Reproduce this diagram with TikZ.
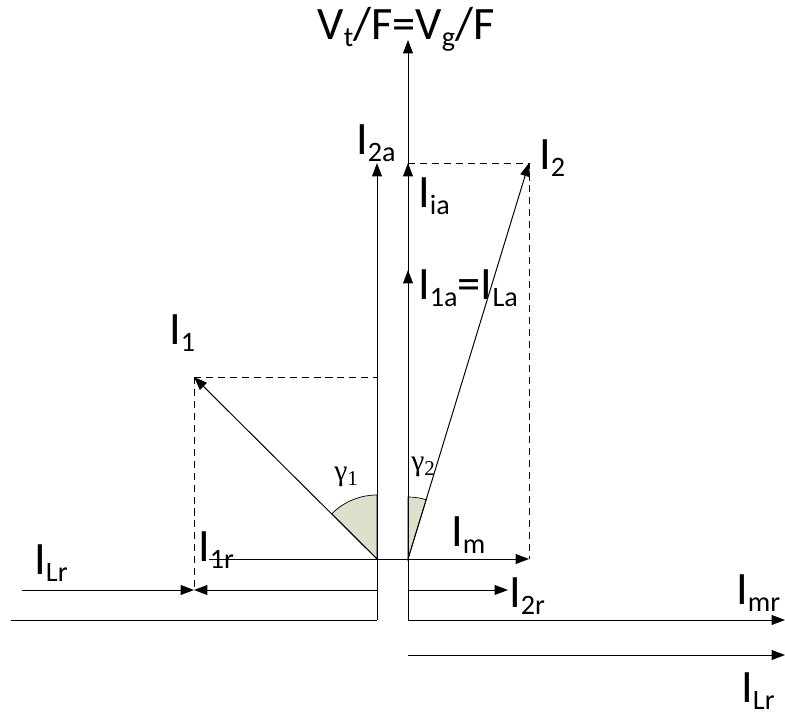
\documentclass[tikz,border=0pt]{standalone}
\usepackage{fontspec}
\setmainfont{Carlito}
\newfontfamily\serifgreek{Liberation Serif}
\usepackage{xcolor}
\usepackage{tikz}
\usetikzlibrary{arrows.meta,calc}
\definecolor{anglefill}{RGB}{221,225,204}
\newcommand{\lowsub}[1]{\raisebox{-4.6pt}{\fontsize{20}{20}\selectfont #1}}
\newcommand{\angsub}[1]{\raisebox{-3pt}{\fontsize{15}{15}\selectfont #1}}

\begin{document}
\begin{tikzpicture}[
    x=0.025cm, y=-0.025cm,
    vec/.style={-{Triangle[length=9.5pt,width=7pt]}, line width=0.7pt},
    axis/.style={line width=0.7pt},
    proj/.style={dash pattern=on 5pt off 3.5pt, line width=0.6pt},
    lbl/.style={anchor=base west, inner sep=0pt, font=\fontsize{33}{36}\selectfont},
    anglbl/.style={anchor=base west, inner sep=0pt, font=\serifgreek\fontsize{21}{24}\selectfont},
    wedge/.style={fill=anglefill, draw=black, line width=0.5pt}
]
\useasboundingbox (0,0) rectangle (785,720);

% points of the diagram
\coordinate (o1) at (377,559);
\coordinate (o2) at (408,559);
\coordinate (top1) at (377,163);
\coordinate (top2) at (408,163);
\coordinate (i1a) at (408,270);
\coordinate (vaxis) at (408,40);
\coordinate (p2) at (529,163);
\coordinate (pm) at (529,559);
\coordinate (p1) at (194,377);
\coordinate (p1a) at (377,377);
\coordinate (base) at (209,559);
\coordinate (r1) at (194,590);
\coordinate (lrstart) at (22,590);
\coordinate (o1r) at (377,590);
\coordinate (o2r) at (408,590);
\coordinate (r2) at (508,590);
\coordinate (leftend) at (11,620);
\coordinate (o1b) at (377,620);
\coordinate (o2b) at (408,620);
\coordinate (mr) at (785,620);
\coordinate (o2c) at (408,655);
\coordinate (lr) at (785,655);

% angles
\filldraw[wedge] (o1) -- ++(-90:64) arc (-90:-135:64) -- cycle;
\filldraw[wedge] (o2) -- ++(-90:62) arc (-90:-72.9:62) -- cycle;

% projections
\draw[proj] (p1) -- (p1a);
\draw[proj] (p1) -- (r1);
\draw[proj] (top2) -- (p2) -- (pm);

% axes
\draw[axis] (leftend) -- (o1b);
\draw[vec] (o1b) -- (top1);
\draw[vec] (o2b) -- (vaxis);
\draw[vec] (o2) -- (top2);
\draw[vec] (o2) -- (i1a);
\draw[axis] (base) -- (o2);
\draw[vec] (o2b) -- (mr);
\draw[vec] (o2c) -- (lr);

% current phasors
\draw[vec] (o1) -- (p1);
\draw[vec] (o2) -- (p2);
\draw[vec] (o2) -- (pm);
\draw[vec] (lrstart) -- (r1);
\draw[vec] (o1r) -- (r1);
\draw[vec] (o2r) -- (r2);

% labels
\node[lbl, anchor=base] (vlabel) at (406,40) {V\lowsub{t}/F=V\lowsub{g}/F};
\node[lbl] (l2a) at (356,155) {I\lowsub{2a}};
\node[lbl] (l2) at (539,170) {I\lowsub{2}};
\node[lbl] (lia) at (418,208) {I\lowsub{ia}};
\node[lbl] (l1a) at (418,300) {I\lowsub{1a}=I\lowsub{La}};
\node[lbl] (l1) at (169,345) {I\lowsub{1}};
\node[lbl] (lm) at (451,547) {I\lowsub{m}};
\node[lbl] (llr) at (34,575) {I\lowsub{Lr}};
\node[lbl] (l1r) at (198,562) {I\lowsub{1r}};
\node[lbl] (l2r) at (509,608) {I\lowsub{2r}};
\node[lbl] (lmr) at (736,605) {I\lowsub{mr}};
\node[lbl] (llr2) at (741,703) {I\lowsub{Lr}};
\node[anglbl] (g1) at (334,481) {γ\angsub{1}};
\node[anglbl] (g2) at (411,471) {γ\angsub{2}};

\end{tikzpicture}
\end{document}
